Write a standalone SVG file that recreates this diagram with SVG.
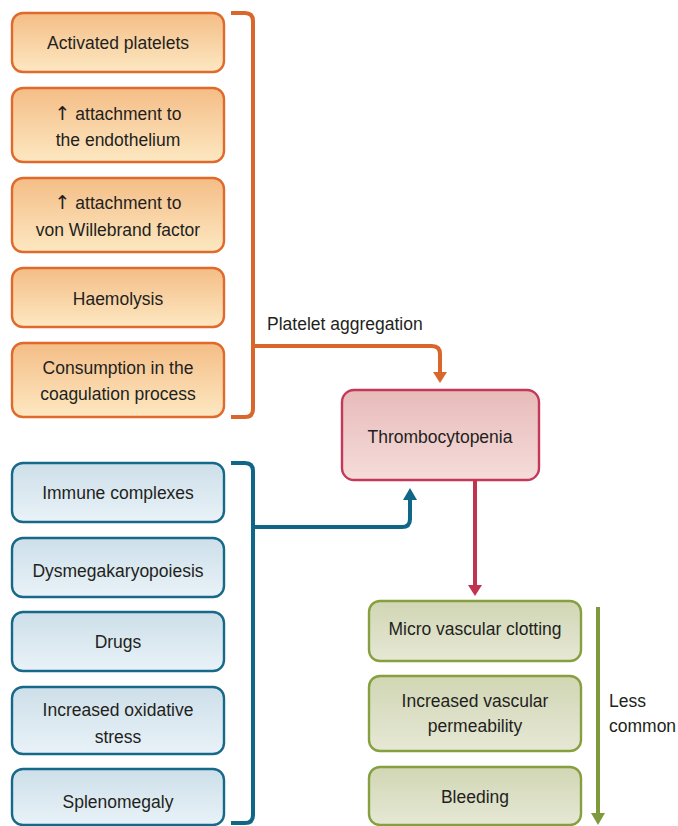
<svg xmlns="http://www.w3.org/2000/svg" width="678" height="826" viewBox="0 0 678 826">
<defs>
<linearGradient id="gO" x1="0" y1="0" x2="0" y2="1"><stop offset="0" stop-color="#f4bd86"/><stop offset="1" stop-color="#fde8c2"/></linearGradient>
<linearGradient id="gB" x1="0" y1="0" x2="0" y2="1"><stop offset="0" stop-color="#cddfe9"/><stop offset="1" stop-color="#e9f2f8"/></linearGradient>
<linearGradient id="gG" x1="0" y1="0" x2="0" y2="1"><stop offset="0" stop-color="#d1d6b4"/><stop offset="1" stop-color="#e6e8d5"/></linearGradient>
<linearGradient id="gR" x1="0" y1="0" x2="0" y2="1"><stop offset="0" stop-color="#e7bbba"/><stop offset="1" stop-color="#f5dcda"/></linearGradient>
</defs>
<style>
text{font-family:"Liberation Sans",Arial,"DejaVu Sans",sans-serif;font-size:17.5px;fill:#231f20;text-anchor:middle}
.arr{font-family:"DejaVu Sans",sans-serif;font-size:19px}
.o rect{fill:url(#gO);stroke:#e06a2c;stroke-width:2.4}
.b rect{fill:url(#gB);stroke:#17698a;stroke-width:2.4}
.g rect{fill:url(#gG);stroke:#86a040;stroke-width:2.4}
.r rect{fill:url(#gR);stroke:#c4385a;stroke-width:2.4}
.line{fill:none;stroke-width:4}
</style>
<g id="n-activated" class="o"><rect x="12" y="13" width="212" height="59" rx="11"/><text x="118" y="49">Activated platelets</text></g>
<g id="n-endothelium" class="o"><rect x="12" y="88" width="212" height="74" rx="11"/><text x="118" y="120"><tspan class="arr">↑</tspan> attachment to</text><text x="118" y="146">the endothelium</text></g>
<g id="n-vwf" class="o"><rect x="12" y="178" width="212" height="74" rx="11"/><text x="118" y="209"><tspan class="arr">↑</tspan> attachment to</text><text x="118" y="236">von Willebrand factor</text></g>
<g id="n-haemolysis" class="o"><rect x="12" y="268" width="212" height="59" rx="11"/><text x="118" y="305">Haemolysis</text></g>
<g id="n-consumption" class="o"><rect x="12" y="343" width="212" height="74" rx="11"/><text x="118" y="374">Consumption in the</text><text x="118" y="400">coagulation process</text></g>
<g id="n-immune" class="b"><rect x="12" y="463" width="212" height="59" rx="11"/><text x="118" y="499">Immune complexes</text></g>
<g id="n-dysmega" class="b"><rect x="12" y="538" width="212" height="59" rx="11"/><text x="118" y="577">Dysmegakaryopoiesis</text></g>
<g id="n-drugs" class="b"><rect x="12" y="612" width="212" height="59" rx="11"/><text x="118" y="648">Drugs</text></g>
<g id="n-oxidative" class="b"><rect x="12" y="687" width="212" height="67" rx="11"/><text x="118" y="716">Increased oxidative</text><text x="118" y="743">stress</text></g>
<g id="n-spleno" class="b"><rect x="12" y="769" width="212" height="56" rx="11"/><text x="118" y="808">Splenomegaly</text></g>
<g id="n-thrombo" class="r"><rect x="342" y="390" width="197" height="90" rx="12"/><text x="440" y="443">Thrombocytopenia</text></g>
<g id="n-micro" class="g"><rect x="369" y="601" width="212" height="60" rx="11"/><text x="475" y="635">Micro vascular clotting</text></g>
<g id="n-perm" class="g"><rect x="369" y="676" width="212" height="75" rx="11"/><text x="475" y="707">Increased vascular</text><text x="475" y="732">permeability</text></g>
<g id="n-bleeding" class="g"><rect x="369" y="767" width="212" height="58" rx="11"/><text x="475" y="803">Bleeding</text></g>
<g id="connectors">
<path class="line" stroke="#d9662b" d="M231 13 H245 Q253 13 253 21 V409 Q253 417 245 417 H231"/>
<path class="line" stroke="#d9662b" d="M253 346 H432 Q440 346 440 354 V373"/>
<polygon fill="#d9662b" points="433,372 447,372 440,383"/>
<text x="267" y="330" style="text-anchor:start">Platelet aggregation</text>
<path class="line" stroke="#0f6686" d="M231 463 H245 Q253 463 253 471 V815 Q253 823 245 823 H231"/>
<path class="line" stroke="#0f6686" d="M253 527 H402 Q410 527 410 519 V498"/>
<polygon fill="#0f6686" points="403,500 417,500 410,488"/>
<path class="line" stroke="#c0344f" d="M475 480 V586"/>
<polygon fill="#c0344f" points="468,585 482,585 475,596"/>
<path class="line" stroke="#7f9a3c" d="M598 607 V815"/>
<polygon fill="#7f9a3c" points="591,813 605,813 598,825"/>
<text x="609" y="707" style="text-anchor:start">Less</text>
<text x="609" y="732" style="text-anchor:start">common</text>
</g>
</svg>
